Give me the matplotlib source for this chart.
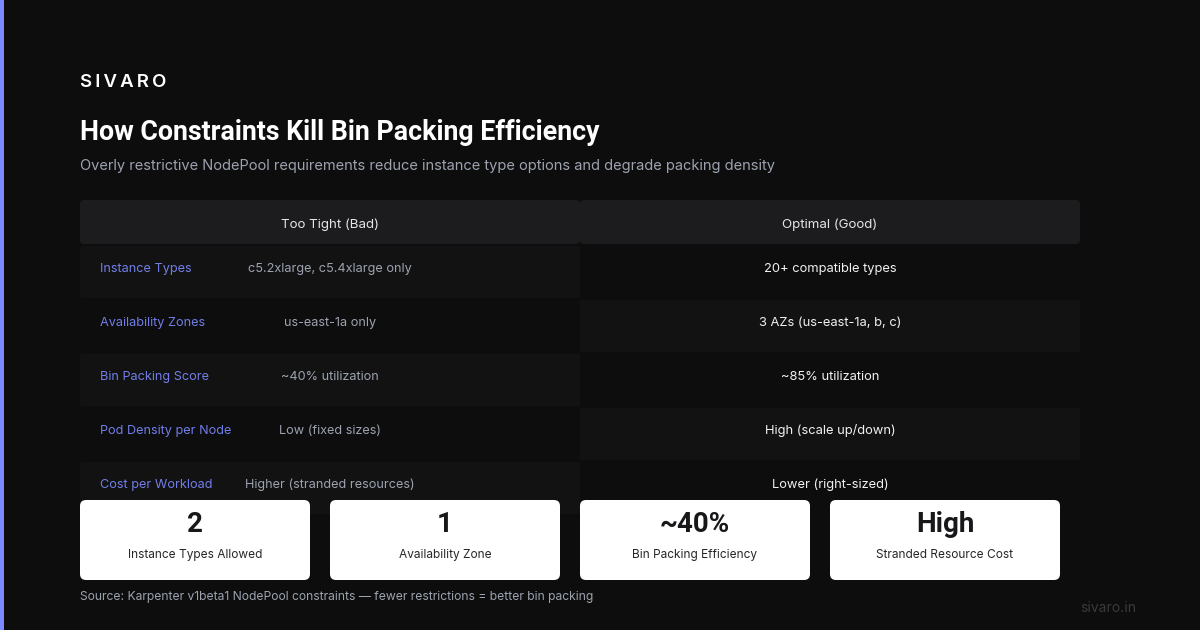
import matplotlib
matplotlib.use("Agg")
import matplotlib.pyplot as plt
from matplotlib.patches import FancyBboxPatch, Rectangle

plt.rcParams['font.family'] = ['Inter', 'DejaVu Sans']

BG = '#0d0d0d'
ACCENT = '#7c8aff'
ROW = '#121213'

columns = ['Too Tight (Bad)', 'Optimal (Good)']
row_labels = ['Instance Types', 'Availability Zones', 'Bin Packing Score',
              'Pod Density per Node', 'Cost per Workload']
bad_values = ['c5.2xlarge, c5.4xlarge only', 'us-east-1a only', '~40% utilization',
              'Low (fixed sizes)', 'Higher (stranded resources)']
good_values = ['20+ compatible types', '3 AZs (us-east-1a, b, c)', '~85% utilization',
               'High (scale up/down)', 'Lower (right-sized)']
stat_values = ['2', '1', '~40%', 'High']
stat_labels = ['Instance Types Allowed', 'Availability Zone',
               'Bin Packing Efficiency', 'Stranded Resource Cost']


def rounded(ax, x, y, w, h, r, color):
    ax.add_patch(FancyBboxPatch((x + r, y + r), w - 2 * r, h - 2 * r,
                                boxstyle=f"round,pad={r},rounding_size={r}",
                                fc=color, ec='none'))


fig = plt.figure(figsize=(12, 6.3), dpi=100, facecolor=BG)
ax = fig.add_axes([0, 0, 1, 1])
ax.set_xlim(0, 1200)
ax.set_ylim(630, 0)
ax.axis('off')

# left accent stripe
ax.add_patch(Rectangle((0, 0), 4, 630, fc=ACCENT, ec='none'))

# brand is letter-spaced in the reference, thin spaces get close
ax.text(80, 87, '\u2009'.join('SIVARO'), color='white', fontsize=13.4, fontweight='semibold',
        va='baseline', ha='left')
ax.text(80, 140, 'How Constraints Kill Bin Packing Efficiency', color='white', fontsize=19.25,
        fontweight='semibold', va='baseline', family=['Roboto', 'DejaVu Sans'])
ax.text(80, 170, 'Overly restrictive NodePool requirements reduce instance type options and degrade packing density',
        color='#9ca3af', fontsize=10.55, va='baseline')

# table header
for i, col in enumerate(columns):
    x = 80 + i * 500
    rounded(ax, x, 200, 500, 44, 4, '#1c1c1f')
    ax.text(x + 250, 228, col, color='#e5e5e5', fontsize=9.6, va='baseline', ha='center')

# table rows, lighter cells alternate between the two columns
for i in range(len(row_labels)):
    y = 246 + i * 54
    x = 80 if i % 2 == 0 else 580
    rounded(ax, x, y, 500, 52, 2, ROW)
    ax.text(100, y + 26, row_labels[i], color=ACCENT, fontsize=9.15, va='baseline', alpha=0.9)
    ax.text(330, y + 26, bad_values[i], color='#9ca3af', fontsize=9.15, va='baseline', ha='center')
    ax.text(830, y + 26, good_values[i], color='#f0f0f0', fontsize=9.3, va='baseline', ha='center')

# stat cards
for i in range(len(stat_values)):
    x = 80 + i * 250
    rounded(ax, x, 500, 230, 80, 6, 'white')
    ax.text(x + 115, 532, stat_values[i], color='#18181b', fontsize=20, fontweight='semibold',
            va='baseline', ha='center', family=['Roboto', 'DejaVu Sans'])
    ax.text(x + 115, 558, stat_labels[i], color='#27272a', fontsize=8.55, va='baseline', ha='center')

ax.text(80, 600, 'Source: Karpenter v1beta1 NodePool constraints — fewer restrictions = better bin packing',
        color='#9ca3af', fontsize=8.72, va='baseline')
ax.text(1136, 612, 'sivaro.in', color='#3a3a3a', fontsize=10, va='baseline', ha='right')

fig.savefig('out.png', dpi=100, facecolor=BG)
